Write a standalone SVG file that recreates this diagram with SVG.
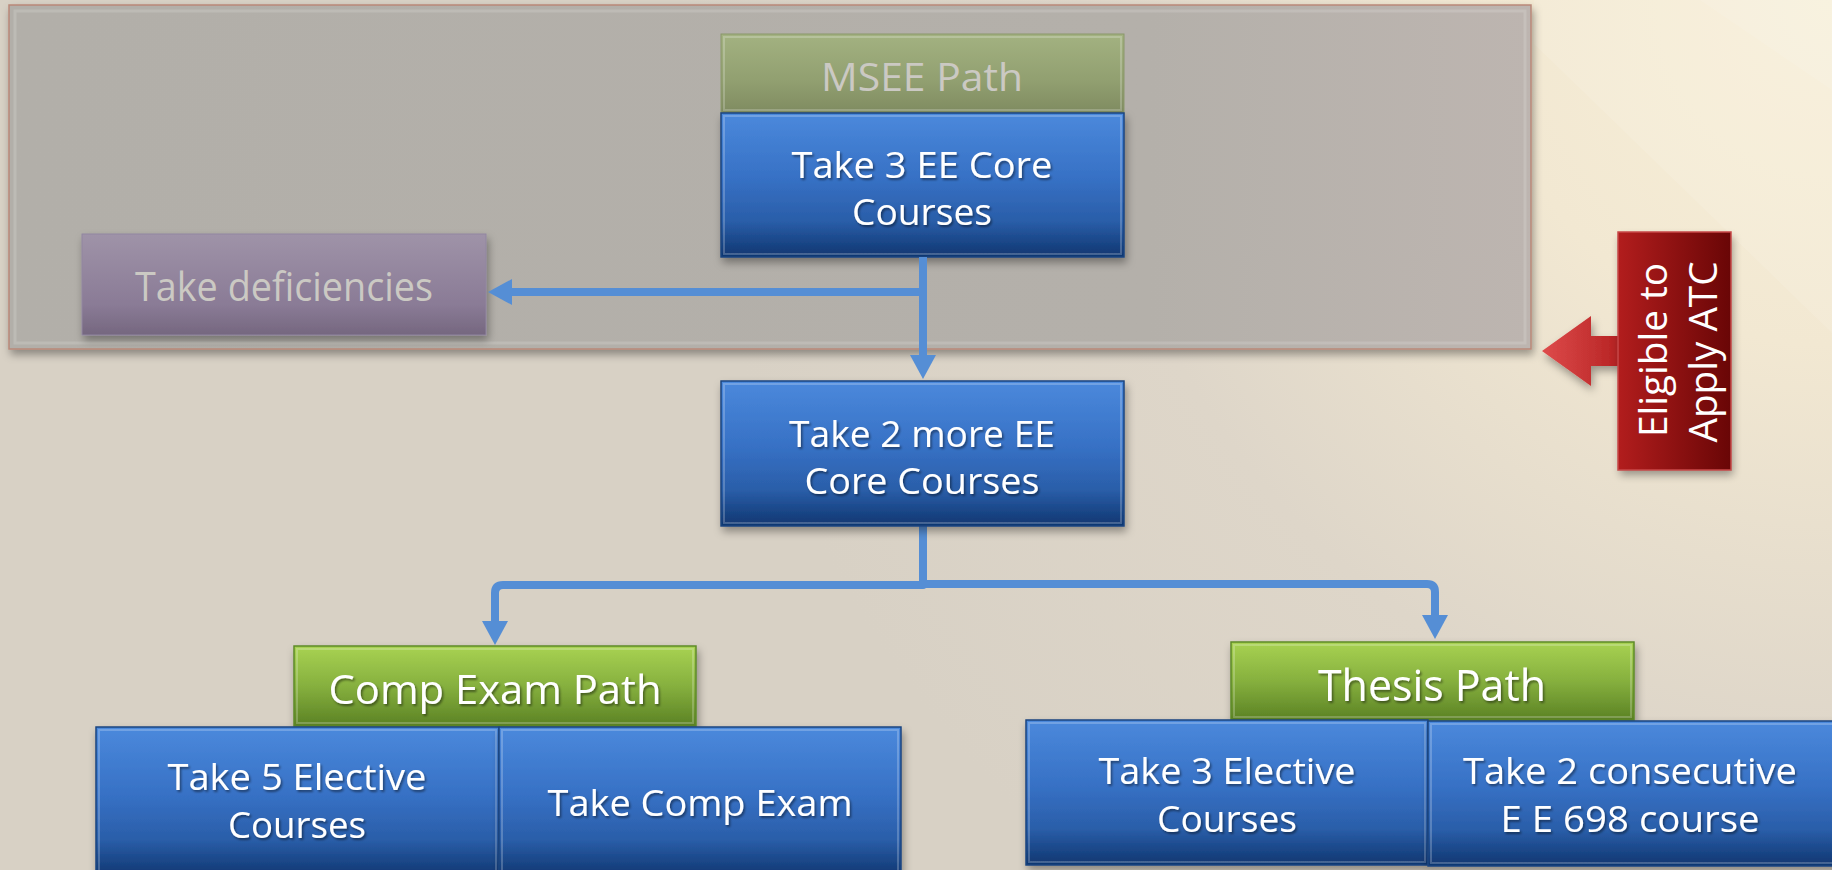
<svg xmlns="http://www.w3.org/2000/svg" width="1832" height="870" viewBox="0 0 1832 870">
  <defs>
    <radialGradient id="bgGlow" cx="1832" cy="0" r="1150" gradientUnits="userSpaceOnUse">
      <stop offset="0" stop-color="#f8f0d9"/>
      <stop offset="0.3" stop-color="#f2e8d2"/>
      <stop offset="0.65" stop-color="#ded6c9"/>
      <stop offset="1" stop-color="#d8d1c5"/>
    </radialGradient>
    <linearGradient id="panelFill" x1="0" y1="0" x2="1" y2="0">
      <stop offset="0" stop-color="#b2afa9"/>
      <stop offset="0.75" stop-color="#b4b0aa"/>
      <stop offset="1" stop-color="#bdb5b0"/>
    </linearGradient>
    <linearGradient id="blueFill" x1="0" y1="0" x2="0" y2="1">
      <stop offset="0" stop-color="#4b89dc"/>
      <stop offset="0.45" stop-color="#3771c5"/>
      <stop offset="0.75" stop-color="#2a5ea9"/>
      <stop offset="1" stop-color="#0f3670"/>
    </linearGradient>
    <linearGradient id="greenFill" x1="0" y1="0" x2="0" y2="1">
      <stop offset="0" stop-color="#a8d252"/>
      <stop offset="0.5" stop-color="#86b03e"/>
      <stop offset="1" stop-color="#5b8224"/>
    </linearGradient>
    <linearGradient id="fadedGreen" x1="0" y1="0" x2="0" y2="1">
      <stop offset="0" stop-color="#a3b281"/>
      <stop offset="0.6" stop-color="#919f70"/>
      <stop offset="1" stop-color="#7f8b60"/>
    </linearGradient>
    <linearGradient id="fadedPurple" x1="0" y1="0" x2="0" y2="1">
      <stop offset="0" stop-color="#9f93a8"/>
      <stop offset="0.7" stop-color="#8a7b96"/>
      <stop offset="1" stop-color="#75677f"/>
    </linearGradient>
    <linearGradient id="redFill" x1="1618" y1="0" x2="1731" y2="0" gradientUnits="userSpaceOnUse">
      <stop offset="0" stop-color="#b21d1d"/>
      <stop offset="1" stop-color="#690606"/>
    </linearGradient>
    <linearGradient id="redArrow" x1="0" y1="0" x2="1" y2="0">
      <stop offset="0" stop-color="#de4b4b"/>
      <stop offset="1" stop-color="#b52222"/>
    </linearGradient>
    <filter id="boxShadow" x="-10%" y="-10%" width="125%" height="135%">
      <feDropShadow dx="2" dy="5" stdDeviation="4" flood-color="#000" flood-opacity="0.35"/>
    </filter>
    <filter id="softBlur" x="-20%" y="-20%" width="140%" height="140%">
      <feGaussianBlur stdDeviation="4"/>
    </filter>
    <filter id="textShadow" x="-5%" y="-20%" width="115%" height="150%">
      <feDropShadow dx="1.5" dy="2" stdDeviation="1" flood-color="#000" flood-opacity="0.45"/>
    </filter>
    <marker id="head" viewBox="0 0 24 26" refX="1" refY="13" markerWidth="24" markerHeight="26" markerUnits="userSpaceOnUse" orient="auto">
      <path d="M0,0 L24,13 L0,26 Z" fill="#558ed5"/>
    </marker>
  </defs>
  <style>
    .txt { font-family: "Open Sans", "Noto Sans", sans-serif; fill: #ffffff; text-anchor: middle; }
    .lbl { filter: url(#textShadow); }
    .body { font-size: 37px; }
    .head { font-size: 40px; }
    .faded { fill: #cbc9c3; }
    .blue { fill: url(#blueFill); stroke: #1b4580; stroke-width: 1.5; }
    .green { fill: url(#greenFill); stroke: #5e8a2a; stroke-width: 1.5; }
    .hl { fill: none; stroke: #ffffff; stroke-opacity: 0.22; stroke-width: 2; }
    .conn { fill: none; stroke: #558ed5; stroke-width: 8; stroke-linejoin: round; }
  </style>

  <!-- background with soft light from the upper right -->
  <rect x="0" y="0" width="1832" height="870" fill="url(#bgGlow)"/>
  <polygon points="1534,0 1832,0 1832,333 1534,44" fill="#ffffff" opacity="0.10"/>
  <polygon points="1700,0 1832,0 1832,90" fill="#ffffff" opacity="0.10"/>

  <!-- first-stage panel -->
  <g id="panel">
    <rect x="9" y="5" width="1522" height="344" fill="url(#panelFill)" stroke="#b98878" stroke-width="1.5" filter="url(#boxShadow)"/>
    <rect x="15" y="11" width="1510" height="332" fill="none" stroke="#ffffff" stroke-opacity="0.15" stroke-width="3"/>
  </g>

  <g id="msee-path">
    <rect x="721" y="34" width="403" height="79" fill="url(#fadedGreen)" stroke="#8a976b" stroke-width="1"/>
    <rect x="724" y="37" width="397" height="73" class="hl"/>
    <text class="txt faded" x="922" y="91" font-size="39" textLength="202" lengthAdjust="spacingAndGlyphs">MSEE Path</text>
  </g>

  <g id="take-deficiencies">
    <rect x="82" y="234" width="404" height="101" fill="url(#fadedPurple)" stroke="#9186a0" stroke-width="1" filter="url(#boxShadow)"/>
    <text class="txt faded" x="284" y="301" font-size="40" textLength="298" lengthAdjust="spacingAndGlyphs">Take deficiencies</text>
  </g>

  <g id="core-3">
    <rect x="721" y="113" width="403" height="144" class="blue" filter="url(#boxShadow)"/>
    <rect x="724" y="116" width="397" height="138" class="hl"/>
    <text class="txt lbl body" x="922" y="178" textLength="261" lengthAdjust="spacingAndGlyphs">Take 3 EE Core</text>
    <text class="txt lbl body" x="922" y="225" textLength="140" lengthAdjust="spacingAndGlyphs">Courses</text>
  </g>

  <!-- connectors -->
  <g id="connectors">
    <path class="conn" d="M923,257 V356" marker-end="url(#head)"/>
    <path class="conn" d="M923,292 H511" marker-end="url(#head)"/>
    <path class="conn" d="M923,526 V585 H503 Q495,585 495,593 V622" marker-end="url(#head)"/>
    <path class="conn" d="M923,584 H1427 Q1435,584 1435,592 V616" marker-end="url(#head)"/>
  </g>

  <g id="core-2">
    <rect x="721" y="381" width="403" height="145" class="blue" filter="url(#boxShadow)"/>
    <rect x="724" y="384" width="397" height="139" class="hl"/>
    <text class="txt lbl body" x="922" y="447" textLength="266" lengthAdjust="spacingAndGlyphs">Take 2 more EE</text>
    <text class="txt lbl body" x="922" y="494" textLength="235" lengthAdjust="spacingAndGlyphs">Core Courses</text>
  </g>

  <g id="atc-callout">
    <polygon points="1542,351 1591,316 1591,336 1622,336 1622,366 1591,366 1591,386" fill="url(#redArrow)" filter="url(#boxShadow)"/>
    <rect x="1620" y="237" width="113" height="238" fill="#000" opacity="0.35" filter="url(#softBlur)"/>
    <rect x="1618" y="232" width="113" height="238" fill="url(#redFill)" stroke="#c84848" stroke-width="1.5"/>
    <text class="txt" font-size="38" textLength="174" lengthAdjust="spacingAndGlyphs" transform="translate(1667,350) rotate(-90)">Eligible to</text>
    <text class="txt" font-size="38" textLength="181" lengthAdjust="spacingAndGlyphs" transform="translate(1717,352) rotate(-90)">Apply ATC</text>
  </g>

  <g id="comp-exam-path">
    <rect x="294" y="646" width="402" height="80" class="green" filter="url(#boxShadow)"/>
    <rect x="297" y="649" width="396" height="74" class="hl"/>
    <text class="txt lbl head" x="495" y="704" textLength="333" lengthAdjust="spacingAndGlyphs">Comp Exam Path</text>
  </g>

  <g id="take-5-elective">
    <rect x="96" y="727" width="403" height="150" class="blue" filter="url(#boxShadow)"/>
    <rect x="99" y="730" width="397" height="150" class="hl"/>
    <text class="txt lbl body" x="297" y="790" textLength="259" lengthAdjust="spacingAndGlyphs">Take 5 Elective</text>
    <text class="txt lbl body" x="297" y="838" textLength="138" lengthAdjust="spacingAndGlyphs">Courses</text>
  </g>

  <g id="take-comp-exam">
    <rect x="499" y="727" width="402" height="150" class="blue" filter="url(#boxShadow)"/>
    <rect x="502" y="730" width="396" height="150" class="hl"/>
    <text class="txt lbl body" x="700" y="816" textLength="305" lengthAdjust="spacingAndGlyphs">Take Comp Exam</text>
  </g>

  <g id="thesis-path">
    <rect x="1231" y="642" width="403" height="78" class="green" filter="url(#boxShadow)"/>
    <rect x="1234" y="645" width="397" height="72" class="hl"/>
    <text class="txt lbl" x="1432" y="701" font-size="44" textLength="228" lengthAdjust="spacingAndGlyphs">Thesis Path</text>
  </g>

  <g id="take-3-elective">
    <rect x="1026" y="720" width="402" height="145" class="blue" filter="url(#boxShadow)"/>
    <rect x="1029" y="723" width="396" height="139" class="hl"/>
    <text class="txt lbl body" x="1227" y="784" textLength="257" lengthAdjust="spacingAndGlyphs">Take 3 Elective</text>
    <text class="txt lbl body" x="1227" y="832" textLength="140" lengthAdjust="spacingAndGlyphs">Courses</text>
  </g>

  <g id="take-698">
    <rect x="1428" y="721" width="410" height="145" class="blue" filter="url(#boxShadow)"/>
    <rect x="1431" y="724" width="404" height="139" class="hl"/>
    <text class="txt lbl body" x="1630" y="784" textLength="334" lengthAdjust="spacingAndGlyphs">Take 2 consecutive</text>
    <text class="txt lbl body" x="1630" y="832" textLength="259" lengthAdjust="spacingAndGlyphs">E E 698 course</text>
  </g>
</svg>
